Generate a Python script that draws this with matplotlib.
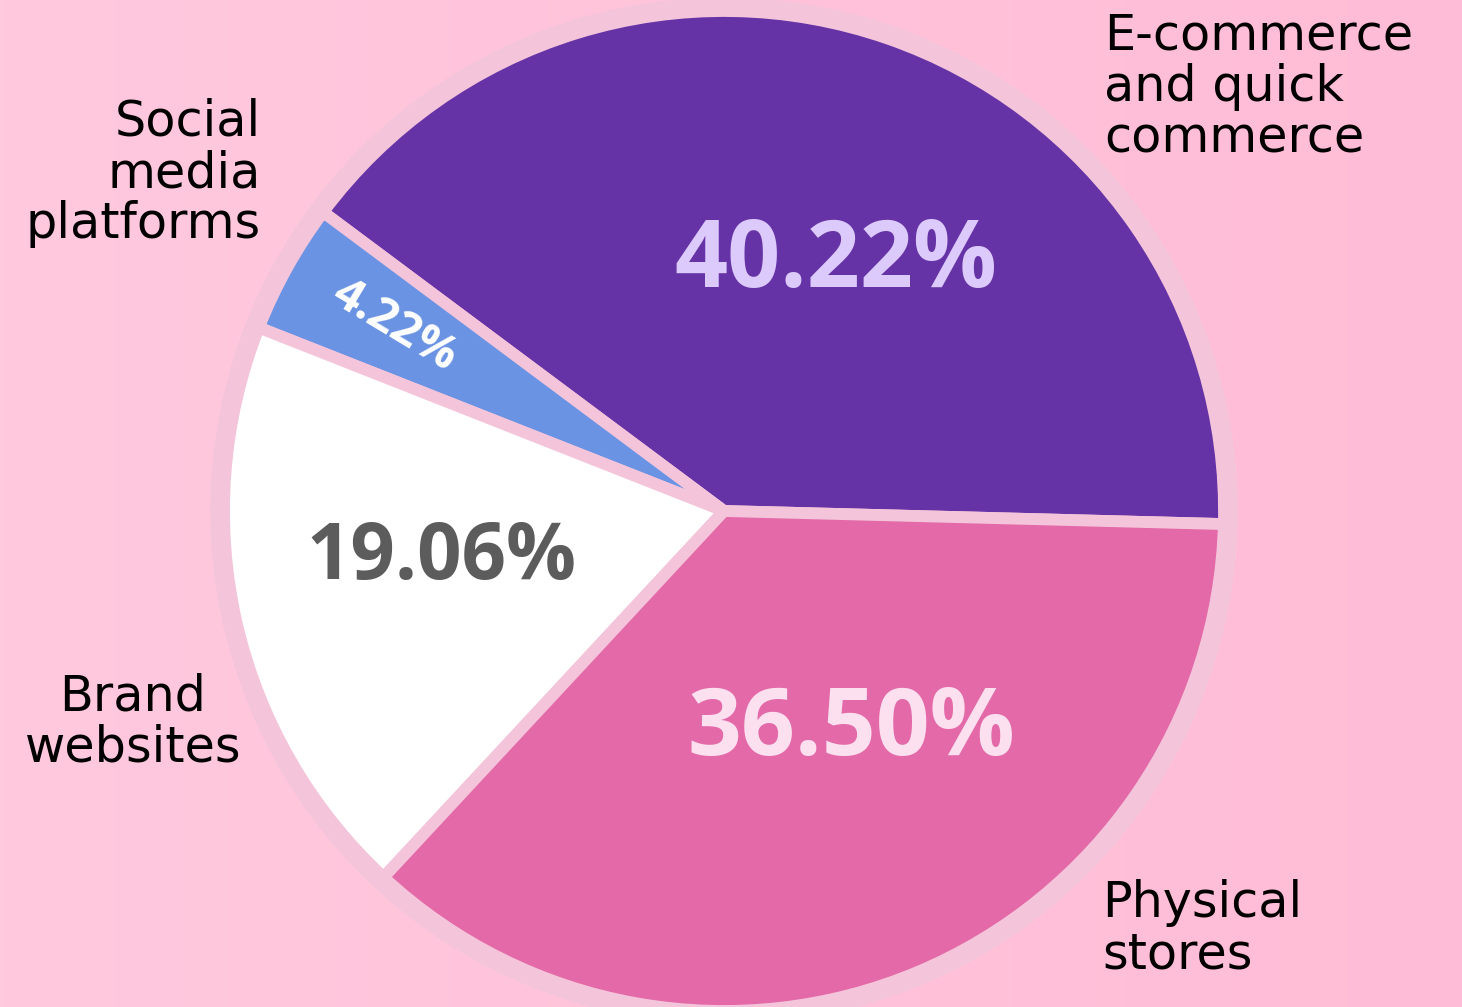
import matplotlib.pyplot as plt
import matplotlib
import numpy as np
from matplotlib.patches import Circle

matplotlib.rcParams['font.family'] = ['Open Sans', 'DejaVu Sans']

# data
labels = ['E-commerce\nand quick\ncommerce', 'Social\nmedia\nplatforms',
          'Brand\nwebsites', 'Physical\nstores']
shares = [40.22, 4.22, 19.06, 36.50]
colors = ['#6633a6', '#6b93e3', '#ffffff', '#e369a8']
pct_colors = ['#dccafc', '#ffffff', '#5c5c5c', '#fde0ef']

ring = '#f4c5da'

fig = plt.figure(figsize=(14.62, 10.07), dpi=100)
ax = fig.add_axes([0, 0, 1, 1])

# background gradient
grad = np.linspace(0, 1, 256).reshape(1, -1)
cmap = matplotlib.colors.LinearSegmentedColormap.from_list('bg', ['#ffc9de', '#ffbcd6'])
ax.imshow(grad, extent=[0, 1462, 0, 1007], cmap=cmap, aspect='auto', zorder=0)

cx, cy, R = 724, 496, 500
ax.add_patch(Circle((cx, cy), R + 13, color=ring, zorder=1))

wedges, _ = ax.pie(shares, colors=colors, startangle=-1.5, counterclock=True,
                   center=(cx, cy), radius=R, frame=True,
                   wedgeprops=dict(edgecolor=ring, linewidth=8.5, zorder=2))
ax.set_xlim(0, 1462)
ax.set_ylim(0, 1007)
ax.set_aspect('equal')
ax.axis('off')

# percentage labels
pct_pos = [(836, 1007 - 263), (395, 1007 - 326), (441, 1007 - 558), (851, 1007 - 731)]
pct_size = [67, 34, 56, 68]
pct_rot = [0, -31, 0, 0]
for s, (x, y), c, fs, r in zip(shares, pct_pos, pct_colors, pct_size, pct_rot):
    ax.text(x, y, f'{s:.2f}%', color=c, fontsize=fs, fontweight='bold',
            ha='center', va='center', rotation=r, rotation_mode='anchor', zorder=3)

# category labels
lab_pos = [(1104, 1007 - 87), (261, 1007 - 173), (133, 1007 - 722), (1102, 1007 - 929)]
lab_ha = ['left', 'right', 'center', 'left']
for t, (x, y), h in zip(labels, lab_pos, lab_ha):
    ax.text(x, y, t, color='black', fontsize=35.5, ha=h, va='center',
            multialignment=h, linespacing=1.08, family='DejaVu Sans', zorder=3)

fig.savefig('out.png', dpi=100)
